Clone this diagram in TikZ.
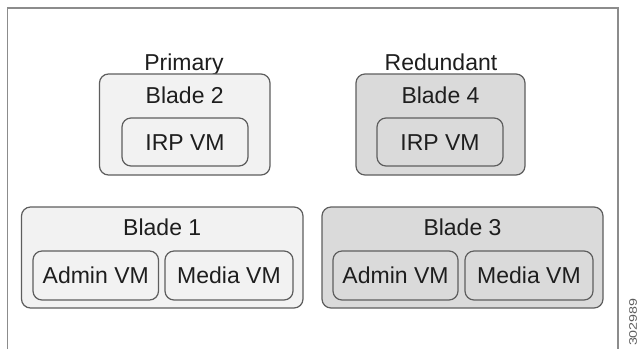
\documentclass[tikz,border=0pt]{standalone}
\usepackage{fontspec}
\setmainfont{Liberation Sans}
\definecolor{lightfill}{HTML}{F2F2F2}
\definecolor{darkfill}{HTML}{DADADA}
\definecolor{edge}{HTML}{5E5E5E}
\definecolor{txtc}{HTML}{1E1E1E}
\definecolor{framec}{HTML}{8C8C8C}
\begin{document}
\begin{tikzpicture}[x=1pt,y=-1pt,
  box/.style={draw=edge, line width=1.2pt, rounded corners=9pt, inner sep=0pt},
  lbox/.style={box, fill=lightfill},
  dbox/.style={box, fill=darkfill},
  txt/.style={text=txtc, inner sep=0pt, text height=16.5pt, text depth=0pt, font=\fontsize{23}{27}\selectfont}
]
\useasboundingbox (0,0) rectangle (644,349);
\fill[white] (0,0) rectangle (644,349);
\draw[framec, line width=1.8pt] (7.5,349) -- (7.5,8) -- (618,8) -- (618,349);

\node[txt] (prim) at (184,62) {Primary};
\node[txt] (red) at (441,62) {Redundant};

% Blade 2
\node[lbox, minimum width=170.5pt, minimum height=101pt] (b2) at (184.75,124.5) {};
\node[txt] (b2t) at (184.75,95) {Blade 2};
\node[lbox, minimum width=126pt, minimum height=48pt] (irp2) at (185,142) {};
\node[txt] (irp2t) at (irp2) {IRP VM};

% Blade 4
\node[dbox, minimum width=169pt, minimum height=101pt] (b4) at (440.5,124.5) {};
\node[txt] (b4t) at (440.5,95) {Blade 4};
\node[dbox, minimum width=126pt, minimum height=48pt] (irp4) at (440,142) {};
\node[txt] (irp4t) at (irp4) {IRP VM};

% Blade 1
\node[lbox, minimum width=281.5pt, minimum height=101pt] (b1) at (162.25,257.5) {};
\node[txt] (b1t) at (162.25,227) {Blade 1};
\node[lbox, minimum width=125.5pt, minimum height=49pt] (adm1) at (95.75,275.5) {};
\node[txt] (adm1t) at (adm1) {Admin VM};
\node[lbox, minimum width=128pt, minimum height=49pt] (med1) at (229,275.5) {};
\node[txt] (med1t) at (med1) {Media VM};

% Blade 3
\node[dbox, minimum width=281pt, minimum height=101pt] (b3) at (462.5,257.5) {};
\node[txt] (b3t) at (462.5,227) {Blade 3};
\node[dbox, minimum width=125pt, minimum height=49pt] (adm3) at (395.5,275.5) {};
\node[txt] (adm3t) at (adm3) {Admin VM};
\node[dbox, minimum width=128pt, minimum height=49pt] (med3) at (529,275.5) {};
\node[txt] (med3t) at (med3) {Media VM};

% figure number
\node[rotate=90, anchor=east, inner sep=0pt, text=edge, font=\fontsize{11}{13}\selectfont, xscale=1.3] (fig) at (633,298) {302989};
\end{tikzpicture}
\end{document}
